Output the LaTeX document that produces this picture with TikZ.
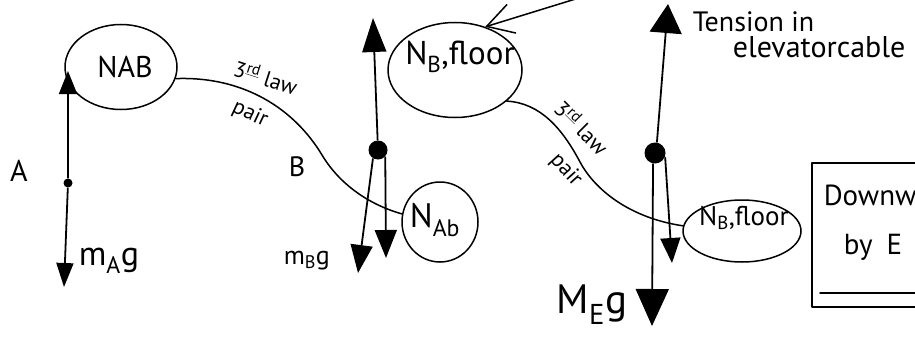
\documentclass[tikz,border=0pt]{standalone}
\usepackage{fontspec}
\setmainfont{PT Sans}
\usetikzlibrary{arrows.meta,shapes.geometric}
\begin{document}
\begin{tikzpicture}[x=1pt,y=-1pt,line width=1.5pt,line cap=round,line join=round,
  bubble/.style={draw,ellipse,inner sep=0pt},
  dotnode/.style={circle,fill,inner sep=0pt},
  force/.style={line width=1.8pt},
  hand/.style={inner sep=0pt,font=\fontsize{#1}{#1}\selectfont},
  hand/.default=26]
\useasboundingbox (0,0) rectangle (915,337);
\clip (0,0) rectangle (915,337);

% ---------- bubbles ----------
\node[bubble,minimum width=112pt,minimum height=85pt] (nab) at (121,67) {};
\node[hand=30] (nabt) at (125,67) {NAB};
\node[bubble,minimum width=134pt,minimum height=95pt] (nbf) at (455,70) {};
\node[hand=33] (nbft) at (460,57) {N\textsubscript{B},floor};
\node[bubble,minimum width=76pt,minimum height=80pt] (nab2) at (440,222) {};
\node[hand=34] (nab2t) at (435,220) {N\textsubscript{Ab}};
\node[bubble,minimum width=118pt,minimum height=62pt] (nbf2) at (742,231) {};
\node[hand=27] (nbf2t) at (744,218) {N\textsubscript{B},floor};

% ---------- body A ----------
\node[dotnode,minimum size=9pt] (dA) at (68,183) {};
\coordinate (aUp) at (68,71);
\coordinate (aDn) at (64,287);
\draw[force,-{Triangle[length=23pt,width=18pt]}] (dA) -- (aUp);
\draw[force,-{Triangle[length=24pt,width=17pt]}] (dA) -- (aDn);
\node[hand=30] (lblA) at (19,171) {A};
\node[hand=34,anchor=base west] (mAg) at (78,265) {m\textsubscript{A}g};

% ---------- body B ----------
\node[dotnode,minimum size=19pt] (dB) at (378,150) {};
\coordinate (bUp) at (373,18);
\coordinate (bL) at (358,273);
\coordinate (bR) at (386,258);
\draw[force,-{Triangle[length=34pt,width=24pt]}] (dB) -- (bUp);
\draw[force,-{Triangle[length=28pt,width=22pt]}] (dB.-120) -- (bL);
\draw[force,-{Triangle[length=28pt,width=22pt]}] (dB.-45) -- (bR);
\node[hand=28] (lblB) at (297,167) {B};
\node[hand=26,anchor=base west] (mBg) at (283,264) {m\textsubscript{B}g};

% ---------- elevator E ----------
\node[dotnode,minimum size=21pt] (dE) at (655,153) {};
\coordinate (eUp) at (668,4);
\coordinate (eL) at (652,326);
\coordinate (eR) at (672,263);
\draw[force,-{Triangle[length=29pt,width=32pt]}] (dE.80) -- (eUp);
\draw[force,-{Triangle[length=37pt,width=33pt]}] (dE.-100) -- (eL);
\draw[force,-{Triangle[length=25pt,width=20pt]}] (dE.-25) -- (eR);
\node[hand=41,anchor=base west] (MEg) at (556,313) {M\textsubscript{E}g};
\node[hand=28,anchor=west] (tens) at (692,22) {Tension in};
\node[hand=30,anchor=west] (elev) at (732,47) {elevatorcable};

% ---------- third-law connectors ----------
\draw (nab.-12) .. controls (245,76) and (295,110) .. (322,155)
      .. controls (340,185) and (370,205) .. (nab2.168);
\node[hand=22,rotate=-18] (law1) at (266,77) {3\textsuperscript{\underline{rd}} law};
\node[hand=22,rotate=-25] (pair1) at (250,114) {pair};

\draw (nbf.-31) .. controls (540,103) and (562,128) .. (580,162)
      .. controls (595,190) and (630,218) .. (nbf2.175);
\node[hand=22,rotate=-45] (law2) at (582,127) {3\textsuperscript{\underline{rd}} law};
\node[hand=22,rotate=-48] (pair2) at (566,170) {pair};

% ---------- incoming arrow ----------
\coordinate (inStart) at (582,-3);
\draw[-{Straight Barb[length=26pt,width=30pt]}] (inStart) -- (nbf.55);

% ---------- box at right ----------
\draw (918,163) -- (812,163) -- (812,307) -- (918,307);
\draw (820,293) -- (918,293);
\node[hand=29,anchor=west] (down) at (823,195) {Downw};
\node[hand=29,anchor=west] (byE) at (843,247) {by\hspace{14pt}E};
\end{tikzpicture}
\end{document}
